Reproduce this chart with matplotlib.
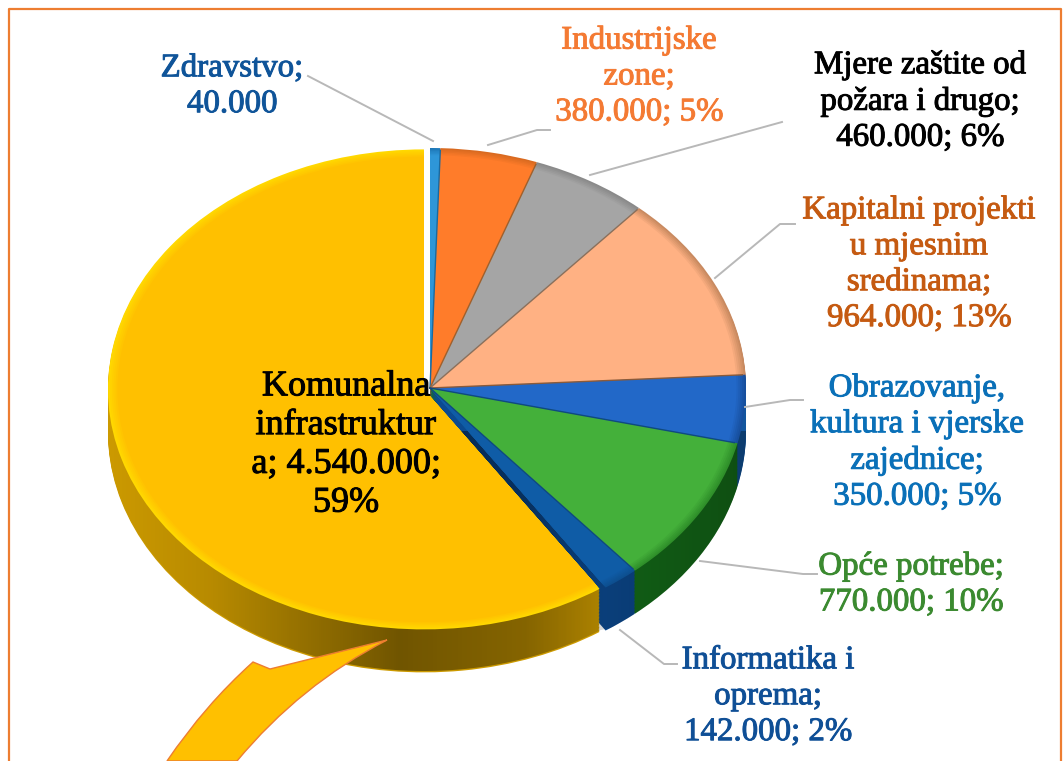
import numpy as np
import matplotlib
matplotlib.use('Agg')
import matplotlib.pyplot as plt
import matplotlib.patheffects as pe
from matplotlib.path import Path
from matplotlib.patches import PathPatch, Polygon

# vrijednosti po kategorijama, od vrha u smjeru kazaljke
categories = ['Zdravstvo', 'Industrijske zone', 'Mjere zaštite od požara i drugo',
              'Kapitalni projekti u mjesnim sredinama', 'Obrazovanje, kultura i vjerske zajednice',
              'Opće potrebe', 'Informatika i oprema', 'Komunalna infrastruktura']
values = [40000, 380000, 460000, 964000, 350000, 770000, 142000, 4540000]
explode = [0, 0, 0, 0, 0, 0, 0, 0.02]

top_colors = ['#2e96d8', '#ff7c2a', '#a5a5a5', '#ffb183', '#2268c8', '#44b03a', '#0f5ca6', '#ffc000']
rim_colors = ['#1e78b8', '#d96a20', '#8a8a8a', '#c98a60', '#174f9e', '#2f8f2a', '#0d4f90', '#ffd800']
side_colors = ['#1a6aa0', '#b0561c', '#707070', '#b06a40', '#12559e', '#15701a', '#0c4a90', '#cc9a00']

labels = ['Zdravstvo;\n40.000',
          'Industrijske\nzone;\n380.000; 5%',
          'Mjere zaštite od\npožara i drugo;\n460.000; 6%',
          'Kapitalni projekti\nu mjesnim\nsredinama;\n964.000; 13%',
          'Obrazovanje,\nkultura i vjerske\nzajednice;\n350.000; 5%',
          'Opće potrebe;\n770.000; 10%',
          'Informatika i\noprema;\n142.000; 2%',
          'Komunalna\ninfrastruktur\na; 4.540.000;\n59%']
label_colors = ['#0f5499', '#f47a33', '#000000', '#c55a11', '#0a70b8', '#3b8a30', '#0f4f96', '#000000']
label_x = [232, 639, 920, 919, 917, 911, 768, 346]
label_y = [86, 76, 101, 264, 442, 584, 696, 445]
label_size = [23.7, 23.7, 23.7, 23.7, 23.7, 23.7, 23.7, 26]

leaders = [[(308, 76), (433, 141)],
           [(550, 130), (537, 130), (488, 145)],
           [(782, 122), (590, 175)],
           [(795, 224), (780, 224), (715, 278)],
           [(803, 400), (790, 400), (745, 407)],
           [(817, 574), (803, 574), (700, 561)],
           [(677, 664), (664, 664), (620, 630)]]

W, H = 1063, 761
CX, CY, RX, RY = 430, 388, 316, 240
DEPTH = 43 / RY

plt.rcParams['font.family'] = ['Liberation Serif', 'DejaVu Serif']
fig = plt.figure(figsize=(W / 100, H / 100), dpi=100)

# pita crtana u elipticnim osama
ax = fig.add_axes([0, 0, 1, 1])
layers = 30
for k in range(layers):
    ax.pie(values, explode=explode, colors=side_colors, startangle=90, counterclock=False,
           center=(0, -DEPTH * (1 - k / layers)), wedgeprops={'linewidth': 0, 'zorder': 1 + k * 0.01})

# sjena na bocnoj strani
t = np.radians(np.linspace(180, 360, 200))
off_x = np.where(np.degrees(t) < 304, -0.019, 0)
side_path = np.column_stack([np.cos(t) + off_x, np.sin(t) - DEPTH])
clip = Polygon(side_path, closed=True, transform=ax.transData, fill=False, linewidth=0)
ax.add_patch(clip)
gx = np.linspace(-1.03, 1.0, 300)
shade = np.zeros((1, 300, 4))
shade[0, :, 3] = np.interp(gx, [-1.03, -0.7, -0.1, 0.3, 0.55, 1.0], [0, 0.1, 0.45, 0.35, 0.15, 0.3])
im = ax.imshow(shade, extent=(-1.03, 1.0, -1.3, 0), aspect='auto', zorder=2)
im.set_clip_path(clip)

# gornja ploha s mekim rubom
steps = 6
for k in range(steps):
    f = k / (steps - 1)
    cols = [np.array(matplotlib.colors.to_rgb(r)) * (1 - f) + np.array(matplotlib.colors.to_rgb(c)) * f
            for r, c in zip(rim_colors, top_colors)]
    ax.pie(values, explode=explode, colors=cols, startangle=90, counterclock=False,
           radius=1 - 0.006 * k, wedgeprops={'linewidth': 0, 'zorder': 3 + k * 0.01})

# tamne granice medu kriskama
fr = np.cumsum(values) / np.sum(values)
ang = np.pi / 2 - 2 * np.pi * fr
for a, c in zip(ang[:-2], ['#1a6aa0', '#a0602c', '#8a705c', '#8a5a3a', '#0f4a80', '#0f4a80']):
    ax.plot([0, np.cos(a) * 0.99], [0, np.sin(a) * 0.99], color=c, lw=1, zorder=4)

ax.set_aspect('auto')
ax.set_xlim(-CX / RX, (W - CX) / RX)
ax.set_ylim((CY - H) / RY, CY / RY)
ax.axis('off')

# gornji sloj u pikselima: okvir, linije, oznake
ov = fig.add_axes([0, 0, 1, 1], facecolor='none')
ov.set_xlim(0, W)
ov.set_ylim(H, 0)
ov.axis('off')

ov.plot([9, 9, 1061, 1061], [H, 9, 9, H], color='#ed7d31', lw=1.6)

for pts in leaders:
    xs, ys = zip(*pts)
    ov.plot(xs, ys, color='#b8b8b8', lw=1.4)

for txt, col, x, y, s in zip(labels, label_colors, label_x, label_y, label_size):
    tt = ov.text(x, y, txt, color=col, fontsize=s, ha='center', va='center', linespacing=1.23)
    tt.set_path_effects([pe.withStroke(linewidth=0.7, foreground=col)])

# strelica odozdo
verts = [(387, 640), (270, 669), (253, 662), (205, 705), (167, 761), (237, 761), (300, 685), (387, 640)]
codes = [Path.MOVETO, Path.LINETO, Path.LINETO, Path.CURVE3, Path.CURVE3, Path.LINETO, Path.CURVE3, Path.CURVE3]
ov.add_patch(PathPatch(Path(verts, codes), facecolor='#ffc000', edgecolor='#ed7d31', lw=1, zorder=5))

fig.savefig('out.png', dpi=100)
